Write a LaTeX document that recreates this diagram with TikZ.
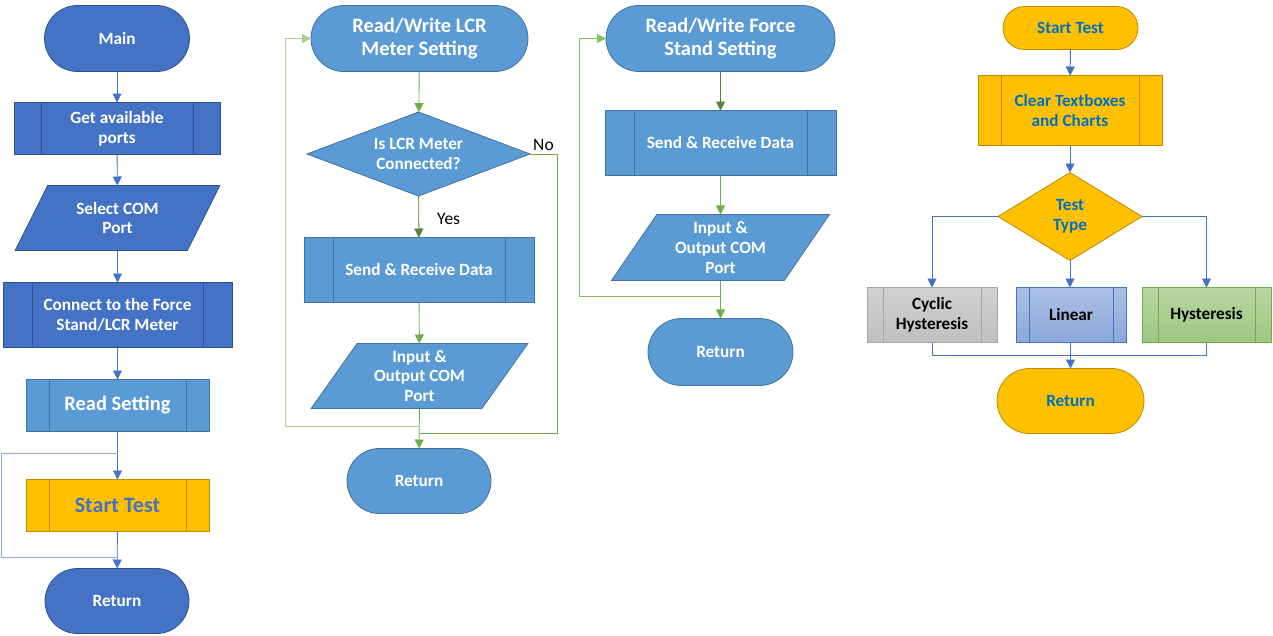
\documentclass[tikz,border=0pt]{standalone}
\usepackage{fontspec}
\setmainfont{Carlito}
\usetikzlibrary{shapes.geometric,shapes.misc,arrows.meta}

\definecolor{dkblue}{HTML}{4472C4}
\definecolor{dkbord}{HTML}{2F528F}
\definecolor{mdblue}{HTML}{5B9BD5}
\definecolor{mdbord}{HTML}{41719C}
\definecolor{gold}{HTML}{FFC000}
\definecolor{goldbord}{HTML}{BC8C00}
\definecolor{txtblue}{HTML}{0070C0}
\definecolor{loopblue}{HTML}{8FAADC}
\definecolor{grn}{HTML}{70AD47}
\definecolor{dkgrn}{HTML}{548235}
\definecolor{ltgrn}{HTML}{A9D18E}
\definecolor{midgrn}{HTML}{86BF60}

\tikzset{
  base/.style={draw, line width=0.8pt, inner sep=0pt, outer sep=0pt, align=center,
    text=white, font=\bfseries\fontsize{17.2}{19.8}\selectfont},
  big/.style={font=\bfseries\fontsize{20.5}{23.5}\selectfont},
  term/.style={base, rounded rectangle},
  ppbox/.style n args={2}{base, rectangle,
    path picture={\draw[line width=0.8pt,#2]
      ([xshift=#1]path picture bounding box.north west) -- ([xshift=#1]path picture bounding box.south west)
      ([xshift=-#1]path picture bounding box.north east) -- ([xshift=-#1]path picture bounding box.south east);}},
  iobox/.style n args={2}{base, trapezium, trapezium left angle=#1, trapezium right angle=#2,
    trapezium stretches=true},
  decbox/.style={base, diamond},
  conn/.style={line width=0.9pt, -{Triangle[length=9pt,width=9pt]}},
  plain/.style={line width=0.9pt},
  lbl/.style={font=\fontsize{17.5}{20}\selectfont, text=black, inner sep=0pt}
}

\begin{document}
\begin{tikzpicture}[x=1pt,y=-1pt]
\useasboundingbox (0,0) rectangle (1273,635);

% ---------- main routine ----------
\node[term, fill=dkblue, draw=dkbord, minimum width=145pt, minimum height=66pt] (main) at (117,38.5) {Main};
\node[ppbox={27pt}{dkbord}, fill=dkblue, draw=dkbord, minimum width=206pt, minimum height=52pt] (ports) at (117,128.5) {Get available\\ports};
\node[iobox={59}{121}, fill=dkblue, draw=dkbord, minimum width=205pt, minimum height=65pt] (select) at (117.5,218) {Select COM\\Port};
\node[ppbox={29pt}{dkbord}, fill=dkblue, draw=dkbord, minimum width=229pt, minimum height=65pt] (connect) at (117.5,315) {Connect to the Force\\Stand/LCR Meter};
\node[ppbox={23pt}{mdbord}, fill=mdblue, draw=mdbord, minimum width=183pt, minimum height=52pt, big] (readset) at (117.5,405.5) {Read Setting};
\node[ppbox={23pt}{goldbord}, fill=gold, draw=goldbord, minimum width=183pt, minimum height=52pt,
      font=\bfseries\fontsize{22}{25}\selectfont, text=dkblue] (starttest) at (117.5,505.5) {Start Test};
\node[term, fill=dkblue, draw=dkbord, minimum width=144pt, minimum height=65pt] (ret1) at (117,601) {Return};

\coordinate (lloopb) at (1,557);
\coordinate (lloopt) at (1,453);

\begin{scope}[dkblue]
\draw[conn] (main) -- (ports);
\draw[conn] (ports) -- (select);
\draw[conn] (select) -- (connect);
\draw[conn] (connect) -- (readset);
\draw[conn] (readset) -- (starttest);
\draw[conn] (starttest) -- (ret1);
\end{scope}
\draw[plain, loopblue] (starttest.south |- lloopb) -- (lloopb) -- (lloopt) -- (readset.south |- lloopt);

% ---------- LCR meter routine ----------
\node[term, big, fill=mdblue, draw=mdbord, minimum width=217pt, minimum height=66pt] (rwlcr) at (419.5,38.5) {Read/Write LCR\\Meter Setting};
\node[decbox, aspect=2.65, fill=mdblue, draw=mdbord, minimum width=223pt, minimum height=84pt] (isconn) at (418.5,154) {Is LCR Meter\\Connected?};
\node[ppbox={29pt}{mdbord}, fill=mdblue, draw=mdbord, minimum width=230pt, minimum height=65pt] (send1) at (419,270) {Send \& Receive Data};
\node[iobox={57}{123}, fill=mdblue, draw=mdbord, minimum width=217pt, minimum height=65pt] (inout1) at (419.5,376) {Input \&\\Output COM\\Port};
\node[term, fill=mdblue, draw=mdbord, minimum width=144pt, minimum height=65pt] (ret2) at (419,481) {Return};

\coordinate (noR) at (557,154);
\coordinate (noB) at (557,433);
\coordinate (rtB) at (285,426);
\coordinate (rtT) at (285,38.5);

\draw[conn, grn] (rwlcr) -- (isconn);
\draw[conn, dkgrn] (isconn) -- node[lbl, right, xshift=18pt, yshift=-2pt] {Yes} (send1);
\node[lbl, anchor=south west] (nolbl) at ([xshift=3pt,yshift=3pt]isconn.east) {No};
\draw[conn, grn] (send1) -- (inout1);
\draw[conn, grn] (inout1) -- (ret2);
\draw[plain, grn] (isconn.east) -- (noR) -- (noB) -- (ret2.north |- noB);
\draw[conn, ltgrn] (ret2.north |- rtB) -- (rtB) -- (rtT) -- (rwlcr.west);

% ---------- force stand routine ----------
\node[term, big, fill=mdblue, draw=mdbord, minimum width=229pt, minimum height=66pt] (rwfs) at (720.5,38.5) {Read/Write Force\\Stand Setting};
\node[ppbox={29pt}{mdbord}, fill=mdblue, draw=mdbord, minimum width=231pt, minimum height=65pt] (send2) at (720.5,143) {Send \& Receive Data};
\node[iobox={58}{122}, fill=mdblue, draw=mdbord, minimum width=218pt, minimum height=66pt] (inout2) at (720.5,247.5) {Input \&\\Output COM\\Port};
\node[term, fill=mdblue, draw=mdbord, minimum width=145pt, minimum height=67pt] (ret3) at (720.5,352) {Return};

\coordinate (fsB) at (579,296);
\coordinate (fsT) at (579,38.5);

\draw[conn, dkgrn] (rwfs) -- (send2);
\draw[conn, grn] (send2) -- (inout2);
\draw[conn, grn] (inout2) -- (ret3);
\draw[conn, midgrn] (ret3.north |- fsB) -- (fsB) -- (fsT) -- (rwfs.west);

% ---------- start test routine ----------
\node[term, fill=gold, draw=goldbord, text=txtblue, minimum width=135pt, minimum height=43pt] (st) at (1070.5,28) {Start Test};
\node[ppbox={23pt}{goldbord}, fill=gold, draw=goldbord, text=txtblue, minimum width=184pt, minimum height=70pt] (clear) at (1070,110.5) {Clear Textboxes\\and Charts};
\node[decbox, aspect=1.64, fill=gold, draw=goldbord, text=txtblue, minimum width=144pt, minimum height=88pt] (tt) at (1070,216.5) {Test\\Type};
\node[ppbox={16pt}{black!35}, top color=black!18, bottom color=black!25, draw=black!35, text=black, minimum width=130pt, minimum height=55pt] (cyc) at (932,315) {Cyclic\\Hysteresis};
\node[ppbox={13pt}{dkblue}, top color=dkblue!45, bottom color=dkblue!62, draw=dkblue, text=black, minimum width=110pt, minimum height=55pt] (lin) at (1071,315) {Linear};
\node[ppbox={16pt}{grn}, top color=grn!50, bottom color=grn!68, draw=grn, text=black, minimum width=129pt, minimum height=55pt] (hys) at (1206.5,315) {Hysteresis};
\node[term, fill=gold, draw=goldbord, text=txtblue, minimum width=147pt, minimum height=65pt] (ret4) at (1070.5,401) {Return};

\coordinate (merge) at (1070,355);

\begin{scope}[dkblue]
\draw[conn] (st) -- (clear);
\draw[conn] (clear) -- (tt);
\draw[conn] (tt) -- (tt.south |- lin.north);
\draw[conn] (tt.west) -| (cyc.north);
\draw[conn] (tt.east) -| (hys.north);
\draw[plain] (cyc.south) |- (merge);
\draw[plain] (hys.south) |- (merge);
\draw[conn] (lin.south -| ret4.north) -- (ret4);
\end{scope}
\end{tikzpicture}
\end{document}
